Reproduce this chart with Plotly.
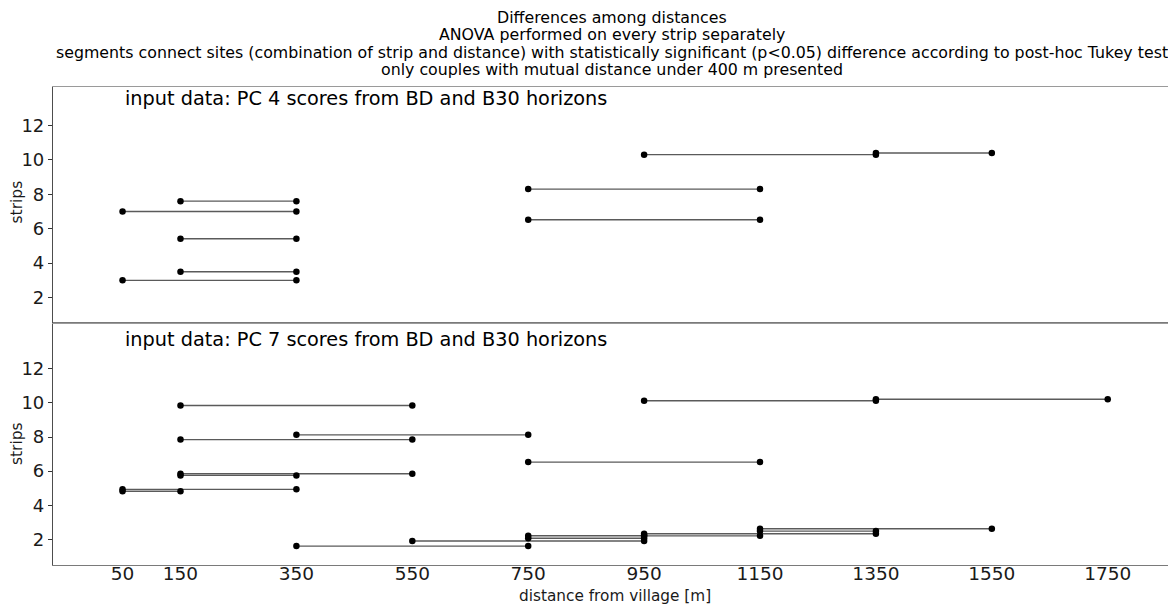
import plotly.graph_objects as go

# ---------------- data ----------------
# top panel: PC 4 scores
top_x0 = [50, 150, 150, 50, 150, 750, 750, 950, 1350]
top_x1 = [350, 350, 350, 350, 350, 1150, 1150, 1350, 1550]
top_y = [3.0, 3.5, 5.42, 7.0, 7.6, 6.52, 8.3, 10.3, 10.4]

# bottom panel: PC 7 scores
bot_x0 = [50, 50, 150, 150, 150, 150, 350, 750, 950, 1350, 350, 550, 750, 750, 950, 950, 1150, 1150]
bot_x1 = [150, 350, 350, 550, 550, 550, 750, 1150, 1350, 1750, 750, 950, 950, 950, 1150, 1350, 1350, 1550]
bot_y = [4.82, 4.93, 5.75, 5.85, 7.85, 9.85, 8.13, 6.53, 10.13, 10.22, 1.6, 1.9, 2.06, 2.21, 2.2, 2.32, 2.48, 2.62]

x_ticks = [50, 150, 350, 550, 750, 950, 1150, 1350, 1550, 1750]
y_ticks = [2, 4, 6, 8, 10, 12]

title_lines = [
    "Differences among distances",
    "ANOVA performed on every strip separately",
    "segments connect sites (combination of strip and distance) with statistically significant (p<0.05) difference according to post-hoc Tukey test",
    "only couples with mutual distance under 400 m presented",
]
panel_labels = [
    "input data: PC 4 scores from BD and B30 horizons",
    "input data: PC 7 scores from BD and B30 horizons",
]

# ---------------- geometry ----------------
W, H = 1168, 606
L, R, T, B = 53.3, 0, 87.3, 41
plot_h = H - T - B
sep_px = 322.7
split = (H - B - sep_px) / plot_h

FONT = "DejaVu Sans, Liberation Sans, Arial, sans-serif"
LINE_COL = "#5a5a5a"


def seg_xy(x0, x1, y):
    xs, ys = [], []
    for a, b, c in zip(x0, x1, y):
        xs += [a, b, None]
        ys += [c, c, None]
    return xs, ys


def pts_xy(x0, x1, y):
    xs, ys = [], []
    for a, b, c in zip(x0, x1, y):
        xs += [a, b]
        ys += [c, c]
    return xs, ys


fig = go.Figure()
for (x0, x1, yy, xa, ya) in [(top_x0, top_x1, top_y, "x2", "y2"),
                             (bot_x0, bot_x1, bot_y, "x", "y")]:
    sx, sy = seg_xy(x0, x1, yy)
    fig.add_trace(go.Scatter(x=sx, y=sy, mode="lines", xaxis=xa, yaxis=ya,
                             line=dict(color=LINE_COL, width=1.4),
                             hoverinfo="skip", showlegend=False))
    px_, py_ = pts_xy(x0, x1, yy)
    fig.add_trace(go.Scatter(x=px_, y=py_, mode="markers", xaxis=xa, yaxis=ya,
                             marker=dict(color="black", size=6.5),
                             showlegend=False))

xr = [-70, 1854]
axis_common = dict(showgrid=False, zeroline=False)
fig.update_layout(
    width=W, height=H,
    margin=dict(l=L, r=R, t=T, b=B, autoexpand=False),
    paper_bgcolor="white", plot_bgcolor="white",
    font=dict(family=FONT, color="#1a1a1a"),
    xaxis=dict(domain=[0, 1], range=xr, anchor="y", tickvals=x_ticks,
               ticktext=[str(v) for v in x_ticks], ticks="",
               ticklabelstandoff=-8,
               tickfont=dict(size=18.5, color="#1a1a1a"),
               showline=True, linecolor="#7a7a7a", linewidth=1.2, mirror=True,
               **axis_common),
    yaxis=dict(domain=[0, split], range=[0.49, 14.72], anchor="x",
               tickvals=y_ticks, ticks="outside", ticklen=4, tickcolor="#333",
               tickfont=dict(size=18, color="#1a1a1a"),
               showline=True, linecolor="#4d4d4d", linewidth=1.2,
               **axis_common),
    xaxis2=dict(domain=[0, 1], range=xr, anchor="y2", showticklabels=False,
                ticks="", showline=True, linecolor="#9a9a9a", linewidth=1.2,
                mirror=True, **axis_common),
    yaxis2=dict(domain=[split, 1], range=[0.55, 14.23], anchor="x2",
                tickvals=y_ticks, ticks="outside", ticklen=4, tickcolor="#333",
                tickfont=dict(size=18, color="#1a1a1a"),
                showline=True, linecolor="#4d4d4d", linewidth=1.2,
                **axis_common),
)


def py(px):
    return (H - B - px) / plot_h


def pxx(px):
    return (px - L) / (W - L - R)


anns = []
for txt, yc in zip(title_lines, [18.0, 35.2, 52.5, 69.8]):
    anns.append(dict(text=txt, x=pxx(612), y=py(yc), xref="paper", yref="paper",
                     xanchor="center", yanchor="middle", showarrow=False,
                     font=dict(size=15.8, color="black", family=FONT)))
anns.append(dict(text=panel_labels[0], x=50, y=13.55, xref="x2", yref="y2",
                 xanchor="left", yanchor="middle", showarrow=False,
                 font=dict(size=19.3, color="black", family=FONT)))
anns.append(dict(text=panel_labels[1], x=50, y=13.7, xref="x", yref="y",
                 xanchor="left", yanchor="middle", showarrow=False,
                 font=dict(size=19.3, color="black", family=FONT)))
anns.append(dict(text="distance from village [m]", x=pxx(615), y=py(595.5),
                 xref="paper", yref="paper", xanchor="center", yanchor="middle",
                 showarrow=False, font=dict(size=15.3, color="#1a1a1a", family=FONT)))
for yc in [202.5, 444]:
    anns.append(dict(text="strips", x=pxx(17.5), y=py(yc), xref="paper", yref="paper",
                     xanchor="center", yanchor="middle", textangle=-90,
                     showarrow=False, font=dict(size=15.5, color="#1a1a1a", family=FONT)))
fig.update_layout(annotations=anns)

fig.write_html("out.html")
